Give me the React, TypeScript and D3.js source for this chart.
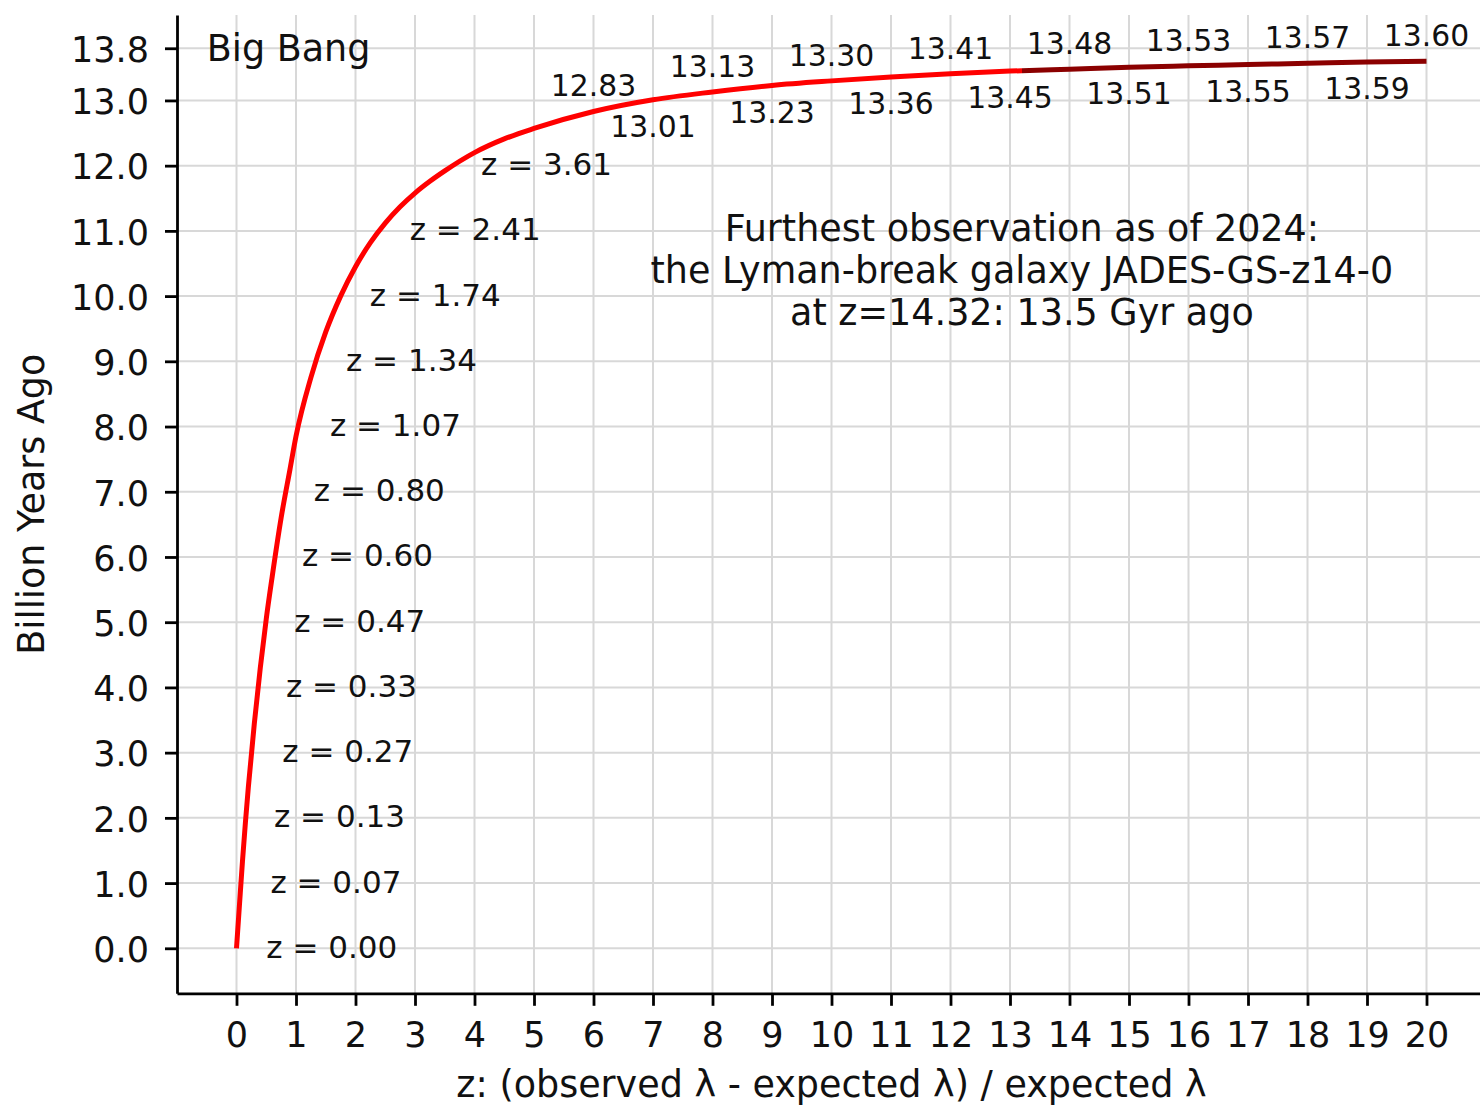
import React, { useEffect, useRef } from "react";
import * as d3 from "d3";

// axis ticks
const xTickValues = [0, 1, 2, 3, 4, 5, 6, 7, 8, 9, 10, 11, 12, 13, 14, 15, 16, 17, 18, 19, 20];
const yTickValues = [0, 1, 2, 3, 4, 5, 6, 7, 8, 9, 10, 11, 12, 13, 13.8];

// lookback curve
const curveZ = [0, 0.05, 0.1, 0.15, 0.2, 0.3, 0.4, 0.5, 0.6, 0.75, 0.9, 1, 1.25, 1.5, 1.75, 2, 2.25, 2.5, 2.75, 3, 3.25, 3.5, 4, 4.5, 5,
  6, 7, 8, 9, 10, 11, 12, 13, 14, 15, 16, 17, 18, 19, 20];
const curveGyr = [0, 0.67, 1.33, 1.93, 2.48, 3.45, 4.3, 5.05, 5.7, 6.6, 7.35, 7.85, 8.75, 9.45, 10.0, 10.45, 10.82, 11.12, 11.37, 11.58, 11.76, 11.92, 12.2, 12.41, 12.57,
  12.83, 13.01, 13.13, 13.23, 13.3, 13.36, 13.41, 13.45, 13.48, 13.51, 13.53, 13.55, 13.57, 13.59, 13.6];

// "z = ..." labels at each billion years
const gyrMarks = [0, 1, 2, 3, 4, 5, 6, 7, 8, 9, 10, 11, 12];
const zAtGyrMarks = [0.0, 0.07, 0.13, 0.27, 0.33, 0.47, 0.6, 0.8, 1.07, 1.34, 1.74, 2.41, 3.61];

// lookback labels along the top
const topZ = [6, 7, 8, 9, 10, 11, 12, 13, 14, 15, 16, 17, 18, 19, 20];
const topGyr = [12.83, 13.01, 13.13, 13.23, 13.3, 13.36, 13.41, 13.45, 13.48, 13.51, 13.53, 13.55, 13.57, 13.59, 13.6];

const darkFromZ = 13.2;
const noteLines = [
  "Furthest observation as of 2024:",
  "the Lyman-break galaxy JADES-GS-z14-0",
  "at z=14.32: 13.5 Gyr ago",
];

const W = 1480;
const H = 1105;
const FONT = "DejaVu Sans";

const drawChart = (elt: SVGSVGElement) => {
  const svg = d3.select(elt);
  svg.selectAll("*").remove();

  const x = d3.scaleLinear().domain([-1, 21]).range([177, 1486]);
  const y = d3.scaleLinear().domain([-0.69, 14.31]).range([993.3, 15]);
  const [left, right] = x.range();
  const [bottom, top] = y.range();

  // grid
  const grid = svg.append("g").attr("stroke", "#d8d8d8").attr("stroke-width", 2);
  grid.selectAll(".vg").data(xTickValues).enter().append("line")
    .attr("x1", (d) => x(d)).attr("x2", (d) => x(d))
    .attr("y1", top).attr("y2", bottom);
  grid.selectAll(".hg").data(yTickValues).enter().append("line")
    .attr("x1", left).attr("x2", right)
    .attr("y1", (d) => y(d)).attr("y2", (d) => y(d));

  // curve, red then dark red past darkFromZ
  const defs = svg.append("defs");
  defs.append("clipPath").attr("id", "clipRed").append("rect")
    .attr("x", 0).attr("y", 0).attr("width", x(darkFromZ)).attr("height", H);
  defs.append("clipPath").attr("id", "clipDark").append("rect")
    .attr("x", x(darkFromZ)).attr("y", 0).attr("width", W).attr("height", H);

  const pts: [number, number][] = curveZ.map((z, i) => [z, curveGyr[i]]);
  const line = d3.line<[number, number]>()
    .x((d) => x(d[0])).y((d) => y(d[1]))
    .curve(d3.curveMonotoneX);

  svg.append("path").attr("d", line(pts)).attr("fill", "none")
    .attr("stroke", "#ff0000").attr("stroke-width", 5).attr("clip-path", "url(#clipRed)");
  svg.append("path").attr("d", line(pts)).attr("fill", "none")
    .attr("stroke", "#8b0000").attr("stroke-width", 5).attr("clip-path", "url(#clipDark)");

  // axes
  const yAxis = d3.axisLeft(y).tickValues(yTickValues).tickFormat(d3.format(".1f"))
    .tickSize(12).tickPadding(16).tickSizeOuter(0);
  const xAxis = d3.axisBottom(x).tickValues(xTickValues).tickFormat(d3.format("d"))
    .tickSize(12.5).tickPadding(16.5).tickSizeOuter(0);

  const gy = svg.append("g").attr("transform", `translate(${left},0)`).call(yAxis);
  const gx = svg.append("g").attr("transform", `translate(0,${bottom})`).call(xAxis);
  [gx, gy].forEach((g) => {
    g.select(".domain").attr("stroke", "#000").attr("stroke-width", 2.8);
    g.selectAll(".tick line").attr("stroke", "#000").attr("stroke-width", 2.8);
    g.selectAll(".tick text").attr("fill", "#111")
      .style("font-family", FONT).style("font-size", "35px");
  });
  gy.selectAll(".tick text").attr("dy", "0.38em");

  // axis titles
  svg.append("text")
    .attr("x", (left + right) / 2).attr("y", 1097)
    .attr("text-anchor", "middle").attr("fill", "#111")
    .style("font-family", FONT).style("font-size", "36.5px")
    .text("z: (observed \u03bb - expected \u03bb) / expected \u03bb");
  svg.append("text")
    .attr("transform", `translate(44,${(top + bottom) / 2}) rotate(-90)`)
    .attr("text-anchor", "middle").attr("fill", "#111")
    .style("font-family", FONT).style("font-size", "36.5px")
    .text("Billion Years Ago");

  // Big Bang
  svg.append("text")
    .attr("x", x(-0.5)).attr("y", y(13.8) + 13)
    .attr("fill", "#111")
    .style("font-family", FONT).style("font-size", "36.5px")
    .text("Big Bang");

  // z labels
  svg.append("g").selectAll("text").data(gyrMarks).enter().append("text")
    .attr("x", (d, i) => x(zAtGyrMarks[i] + 0.5))
    .attr("y", (d) => y(d) + 9.5)
    .attr("fill", "#111")
    .style("font-family", FONT).style("font-size", "31px")
    .text((d, i) => `z = ${zAtGyrMarks[i].toFixed(2)}`);

  // lookback labels, alternating above/below the curve
  svg.append("g").selectAll("text").data(topZ).enter().append("text")
    .attr("x", (d) => x(d))
    .attr("y", (d, i) => y(topGyr[i] + (i % 2 === 0 ? 0.4 : -0.4)) + 11)
    .attr("text-anchor", "middle").attr("fill", "#111")
    .style("font-family", FONT).style("font-size", "29.8px")
    .text((d, i) => topGyr[i].toFixed(2));

  // note
  const note = svg.append("text")
    .attr("text-anchor", "middle").attr("fill", "#111")
    .style("font-family", FONT).style("font-size", "36.5px");
  noteLines.forEach((t, i) => {
    note.append("tspan")
      .attr("x", x(13.2))
      .attr("y", y(10.4) + (i - 1) * 41.7 + 13)
      .text(t);
  });
};

const App = () => {
  const ref = useRef<SVGSVGElement>(null);

  useEffect(() => {
    if (ref.current) drawChart(ref.current);
  }, []);

  return (
    <svg
      ref={ref}
      width={W}
      height={H}
      style={{ position: "absolute", left: 0, top: 0, background: "#fff" }}
    />
  );
};

export default App;
